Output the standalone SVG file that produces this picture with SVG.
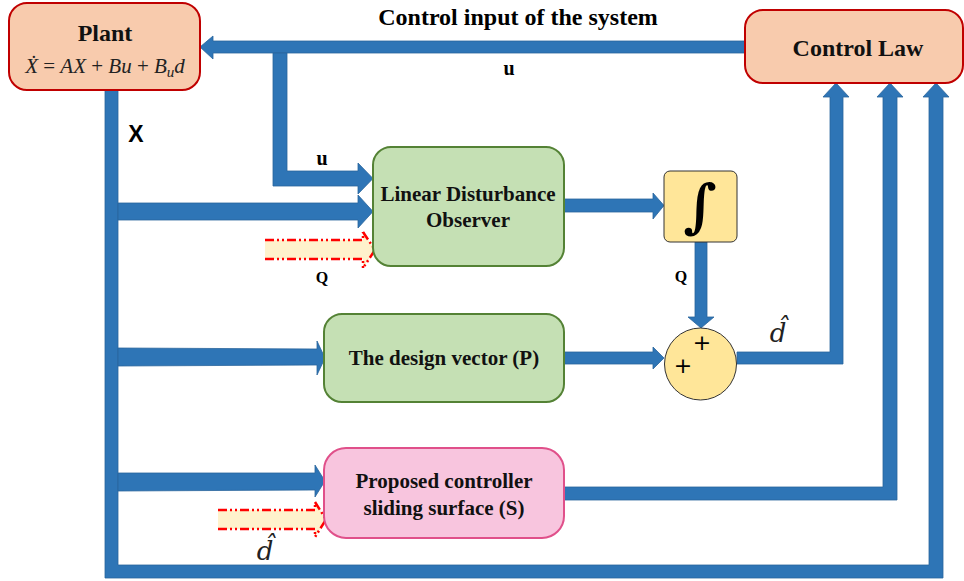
<svg xmlns="http://www.w3.org/2000/svg" width="964" height="581" viewBox="0 0 964 581">
<style>
.conn{fill:#2e75b6;stroke:#2a649c;stroke-width:0.8}
.lbl{font-family:"Liberation Serif",serif;font-weight:bold;fill:#000}
.node{font-family:"Liberation Serif",serif;font-weight:bold;font-size:21px;text-anchor:middle;fill:#111}
.big{font-size:24px}
.math{font-family:"DejaVu Serif","Liberation Serif",serif;font-style:italic;fill:#222}
.dbody{fill:#fff2cc;stroke:none}
.dline{fill:none;stroke:#ff0000;stroke-width:2.5;stroke-dasharray:9 3 2 3 2 3}
</style>
<rect width="964" height="581" fill="#fff"/>
<g id="connectors">
  <polygon class="conn" points="745,41 213,41 213,36 200,47 213,59 213,53 745,53"/>
  <polygon class="conn" points="273,53 287,53 287,171 358,171 358,163 373,178.5 358,194 358,186 273,186"/>
  <polygon class="conn" points="105,90 118,90 118,565 929,565 929,97 923,97 936,83 949,97 943,97 943,578 105,578"/>
  <polygon class="conn" points="118,203 358,203 358,195 373,211.5 358,228 358,220 118,220"/>
  <polygon class="conn" points="118,348 317,349 317,341 325,358 317,375 317,365 118,366"/>
  <polygon class="conn" points="118,473 315,473 315,465 325,481 315,497 315,490 118,491"/>
  <polygon class="conn" points="564,199 653,199 653,193 664,205.5 653,219 653,212 564,212"/>
  <polygon class="conn" points="695,242 707,242 707,317 714,317 701,328 688,317 695,317"/>
  <polygon class="conn" points="564,352 653,352 653,347 664,358 653,369 653,364 564,364"/>
  <polygon class="conn" points="737,352 830,352 830,97 823,97 836,83 849,97 843,97 843,364 737,364"/>
  <polygon class="conn" points="564,487 883,487 883,97 877,97 890,83 903,97 897,97 897,500 564,500"/>
  <g id="q-input">
    <polygon class="dbody" points="265,240 363,240 363,232 375,250 363,268 363,259 265,259"/>
    <polyline class="dline" points="265,240 363,240 363,232"/>
    <polyline class="dline" points="265,259 363,259 363,268"/>
    <polyline class="dline" points="363,232 375,250 363,268"/>
  </g>
  <g id="dhat-input">
    <polygon class="dbody" points="218,510 315,510 315,502 326,519.5 315,537 315,529 218,529"/>
    <polyline class="dline" points="218,510 315,510 315,502"/>
    <polyline class="dline" points="218,529 315,529 315,537"/>
    <polyline class="dline" points="315,502 326,519.5 315,537"/>
  </g>
</g>
<g id="labels">
  <text class="lbl" x="518" y="25" font-size="24" text-anchor="middle">Control input of the system</text>
  <text class="lbl" x="509" y="75" font-size="20" text-anchor="middle">u</text>
  <text x="136" y="142" font-family="Liberation Sans,sans-serif" font-weight="bold" font-size="23" text-anchor="middle">X</text>
  <text class="lbl" x="322" y="165" font-size="20" text-anchor="middle">u</text>
  <text class="lbl" x="322" y="283" font-size="16" text-anchor="middle">Q</text>
  <text class="lbl" x="681" y="282" font-size="16" text-anchor="middle">Q</text>
  <text class="math" x="778" y="342" font-size="26" text-anchor="middle">d̂</text>
  <text class="math" x="265" y="560" font-size="26" text-anchor="middle">d̂</text>
</g>
<g id="plant">
  <rect x="9" y="3" width="191" height="87" rx="18" fill="#f8cbad" stroke="#c00000" stroke-width="2"/>
  <text class="node big" x="105" y="41">Plant</text>
  <text x="105" y="73" font-family="Liberation Serif,serif" font-size="21" text-anchor="middle" fill="#222"><tspan font-style="italic">Ẋ</tspan> = <tspan font-style="italic">AX</tspan> + <tspan font-style="italic">Bu</tspan> + <tspan font-style="italic">B</tspan><tspan font-style="italic" font-size="15" dy="4">u</tspan><tspan font-style="italic" dy="-4">d</tspan></text>
</g>
<g id="control-law">
  <rect x="745" y="10" width="218" height="73" rx="18" fill="#f8cbad" stroke="#c00000" stroke-width="2"/>
  <text class="node big" x="858" y="56">Control Law</text>
</g>
<g id="ldo">
  <rect x="373" y="147" width="191" height="119" rx="18" fill="#c5e0b4" stroke="#548235" stroke-width="2"/>
  <text class="node" x="468" y="201">Linear Disturbance</text>
  <text class="node" x="468" y="227">Observer</text>
</g>
<g id="integrator">
  <rect x="664" y="171" width="73" height="71" rx="6" fill="#ffe699" stroke="#333" stroke-width="1"/>
  <text x="700" y="226" font-family="DejaVu Serif,serif" font-weight="bold" font-size="58" text-anchor="middle" fill="#000">∫</text>
</g>
<g id="sum">
  <circle cx="700.5" cy="364" r="36" fill="#ffe699" stroke="#333" stroke-width="1"/>
  <text x="702" y="350" font-family="DejaVu Sans,sans-serif" font-size="22" text-anchor="middle">+</text>
  <text x="683" y="373" font-family="DejaVu Sans,sans-serif" font-size="22" text-anchor="middle">+</text>
</g>
<g id="design-vector">
  <rect x="324" y="314" width="240" height="88" rx="18" fill="#c5e0b4" stroke="#548235" stroke-width="2"/>
  <text class="node" x="444" y="365">The design vector (P)</text>
</g>
<g id="sliding-surface">
  <rect x="324" y="448" width="240" height="90" rx="22" fill="#f8c5de" stroke="#e0508a" stroke-width="2"/>
  <text class="node" x="444" y="488">Proposed controller</text>
  <text class="node" x="444" y="515">sliding surface (S)</text>
</g>
</svg>
